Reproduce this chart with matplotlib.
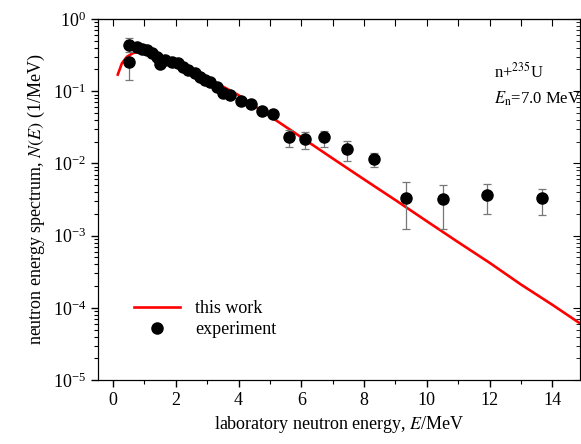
import numpy as np
import matplotlib
matplotlib.use('Agg')
import matplotlib.pyplot as plt
from matplotlib.lines import Line2D
from matplotlib.ticker import LogLocator, MultipleLocator, NullFormatter

plt.rcParams['font.family'] = ['Liberation Serif', 'DejaVu Serif']
plt.rcParams['mathtext.fontset'] = 'stix'
plt.rcParams['font.size'] = 13

exp_E = [0.52, 0.52, 0.75, 0.91, 1.07, 1.23, 1.39, 1.50, 1.66, 1.87, 2.08, 2.24,
         2.40, 2.61, 2.77, 2.93, 3.09, 3.30, 3.51, 3.73, 4.07, 4.39, 4.74, 5.11,
         5.60, 6.11, 6.73, 7.47, 8.33, 9.32, 10.50, 11.91, 13.67]
exp_N = [0.44, 0.255, 0.405, 0.39, 0.37, 0.34, 0.30, 0.24, 0.27, 0.257, 0.243, 0.218,
         0.197, 0.177, 0.159, 0.143, 0.136, 0.115, 0.094, 0.089, 0.073, 0.066, 0.053, 0.049,
         0.0229, 0.0218, 0.0229, 0.0158, 0.0115, 0.00337, 0.00318, 0.00363, 0.0033]
err_lo = [0.09, 0.112, 0.02, 0.02, 0.02, 0.015, 0.015, 0.012, 0.012, 0.012, 0.012, 0.01,
          0.01, 0.009, 0.008, 0.007, 0.007, 0.006, 0.005, 0.005, 0.004, 0.004, 0.003, 0.003,
          0.0062, 0.0058, 0.0059, 0.005, 0.0027, 0.00215, 0.00193, 0.00163, 0.0014]
err_hi = [0.10, 0.02, 0.02, 0.02, 0.02, 0.015, 0.015, 0.012, 0.012, 0.012, 0.012, 0.01,
          0.01, 0.009, 0.008, 0.007, 0.007, 0.006, 0.005, 0.005, 0.004, 0.004, 0.003, 0.003,
          0.0061, 0.0052, 0.0055, 0.0046, 0.0026, 0.0021, 0.0018, 0.0015, 0.0011]

# calculated spectrum (this work)
calc_E = [0.15, 0.28, 0.44, 0.65, 0.86, 1.12, 1.55, 2.0, 2.5, 3.0, 3.5, 4.0,
          5.0, 6.0, 7.0, 8.0, 9.0, 10.0, 11.0, 12.0, 13.0, 14.0, 14.9]
calc_N = [0.17, 0.243, 0.30, 0.34, 0.35, 0.34, 0.307, 0.255, 0.193, 0.15, 0.116, 0.088,
          0.045, 0.023, 0.0117, 0.006, 0.0031, 0.00158, 8.1e-4, 4.2e-4, 2.1e-4, 1.1e-4, 6.0e-5]

fig = plt.figure(figsize=(5.81, 4.44), dpi=100)
ax = fig.add_axes([0.1687, 0.1441, 0.8296, 0.8131])

ax.plot(calc_E, calc_N, color='red', lw=1.9, zorder=2)
ax.errorbar(exp_E, exp_N, yerr=[err_lo, err_hi], fmt='o', color='black', ms=8,
            ecolor='#777777', elinewidth=0.9, capsize=3, capthick=0.9, zorder=3)

ax.set_yscale('log')
ax.set_xlim(-0.48, 14.88)
ax.set_ylim(1e-5, 1)
ax.xaxis.set_major_locator(MultipleLocator(2))
ax.xaxis.set_minor_locator(MultipleLocator(1))
ax.yaxis.set_major_locator(LogLocator(base=10, numticks=10))
ax.yaxis.set_minor_locator(LogLocator(base=10, subs=np.arange(2, 10), numticks=10))
ax.yaxis.set_minor_formatter(NullFormatter())
ax.tick_params(which='major', direction='out', length=5, width=1, top=False, right=False)
ax.tick_params(which='minor', direction='out', length=3, width=0.8, top=False, right=False)

# inward ticks on top and right
secx = ax.secondary_xaxis('top')
secx.set_xticks(range(0, 15))
secx.tick_params(direction='in', length=5, labeltop=False)
axr = ax.twinx()
axr.set_yscale('log')
axr.set_ylim(1e-5, 1)
axr.yaxis.set_major_locator(LogLocator(base=10, numticks=10))
axr.yaxis.set_minor_locator(LogLocator(base=10, subs=np.arange(2, 10), numticks=10))
axr.tick_params(which='major', direction='in', length=5, labelright=False)
axr.tick_params(which='minor', direction='in', length=3, labelright=False)

ax.set_xlabel('laboratory neutron energy, $E$/MeV')
ax.set_ylabel('neutron energy spectrum, $N(E)$ (1/MeV)')

ax.text(0.822, 0.853, 'n+$^{235}$U', transform=ax.transAxes, fontsize=12, va='center')
ax.text(0.822, 0.78, '$E_{\\mathrm{n}}$=7.0 MeV', transform=ax.transAxes, fontsize=12, va='center')

handles = [Line2D([], [], color='red', lw=1.9),
           Line2D([], [], color='black', marker='o', ms=8, ls='none')]
ax.legend(handles, ['this work', 'experiment'], loc='lower left',
          bbox_to_anchor=(0.04, 0.07), frameon=False,
          handlelength=2.6, fontsize=13, labelspacing=0.25)

fig.savefig('out.png', dpi=100)
